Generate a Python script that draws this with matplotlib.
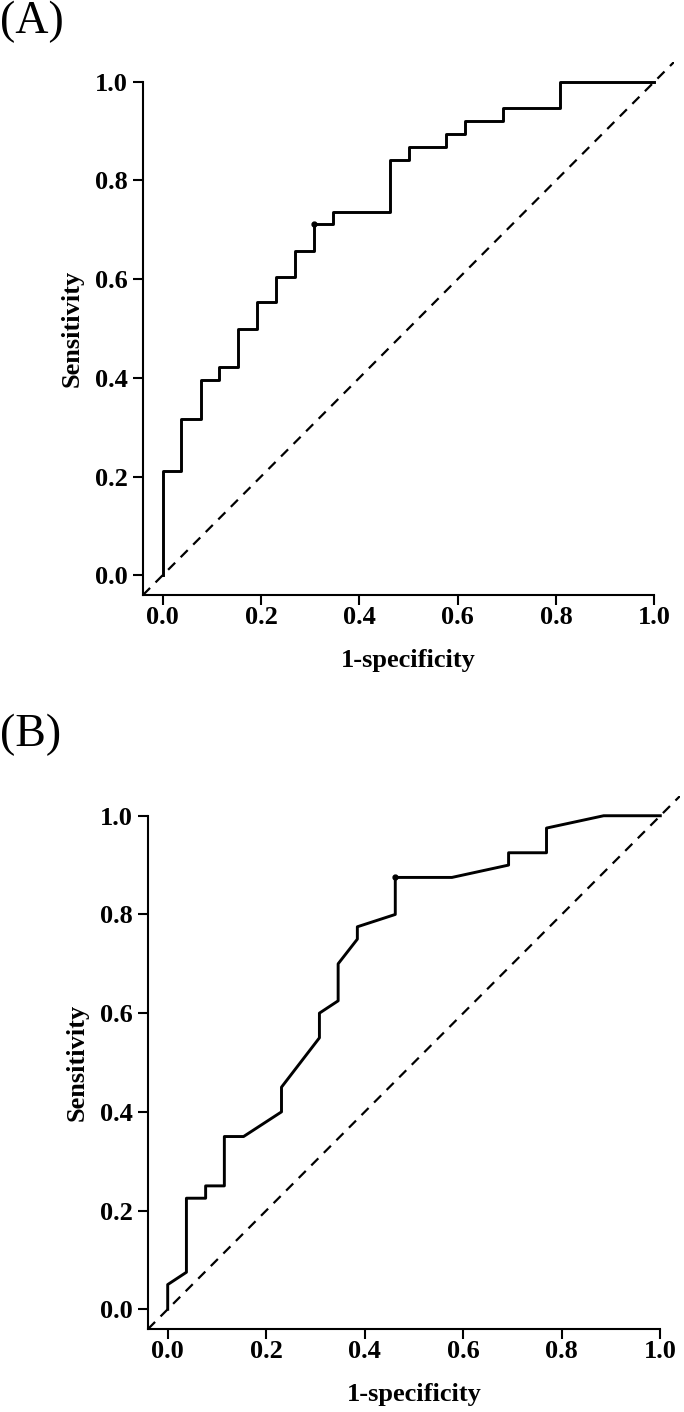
import matplotlib
matplotlib.use('Agg')
import matplotlib.pyplot as plt

plt.rcParams['font.family'] = ['Liberation Serif', 'DejaVu Serif']

# panel A: ROC points (1-specificity, sensitivity)
fpr_a = [0.0, 0.0, 0.038, 0.038, 0.077, 0.077, 0.115, 0.115, 0.154, 0.154, 0.192, 0.192,
         0.231, 0.231, 0.269, 0.269, 0.308, 0.308, 0.346, 0.346, 0.462, 0.462, 0.5, 0.5,
         0.577, 0.577, 0.615, 0.615, 0.692, 0.692, 0.808, 0.808, 1.0]
tpr_a = [0.0, 0.211, 0.211, 0.316, 0.316, 0.395, 0.395, 0.421, 0.421, 0.5, 0.5, 0.553,
         0.553, 0.605, 0.605, 0.658, 0.658, 0.711, 0.711, 0.737, 0.737, 0.842, 0.842, 0.868,
         0.868, 0.895, 0.895, 0.921, 0.921, 0.947, 0.947, 1.0, 1.0]
best_a = (0.308, 0.711)

# panel B
fpr_b = [0.0, 0.0, 0.038, 0.038, 0.077, 0.077, 0.115, 0.115, 0.154, 0.231, 0.231, 0.308,
         0.308, 0.346, 0.346, 0.385, 0.385, 0.462, 0.462, 0.577, 0.692, 0.692, 0.769, 0.769,
         0.885, 1.0]
tpr_b = [0.0, 0.05, 0.075, 0.225, 0.225, 0.25, 0.25, 0.35, 0.35, 0.40, 0.45, 0.55,
         0.60, 0.625, 0.70, 0.75, 0.775, 0.80, 0.875, 0.875, 0.90, 0.925, 0.925, 0.975,
         1.0, 1.0]
best_b = (0.462, 0.875)

ticks = [0.0, 0.2, 0.4, 0.6, 0.8, 1.0]
tick_labels = ['0.0', '0.2', '0.4', '0.6', '0.8', '1.0']

W, H = 684, 1412
fig = plt.figure(figsize=(W / 100, H / 100), dpi=100)


def px_axes(x0, x1, y0, y1):
    # pixel box -> figure fraction
    return fig.add_axes([x0 / W, 1 - y1 / H, (x1 - x0) / W, (y1 - y0) / H])


def roc_panel(ax, fpr, tpr, best):
    ax.plot([-0.04, 1.04], [-0.04, 1.04], color='black', lw=1.6,
            linestyle=(0, (4.5, 3.5)), zorder=1)
    ax.plot(fpr, tpr, color='black', lw=2.1, zorder=2)
    ax.plot([best[0]], [best[1]], 'o', color='black', ms=3.5, zorder=3)
    ax.set_xlim(-0.04, 1.04)
    ax.set_ylim(-0.04, 1.04)
    for s in ['top', 'right']:
        ax.spines[s].set_visible(False)
    ax.spines['left'].set_bounds(-0.04, 1.0)
    ax.spines['bottom'].set_bounds(-0.04, 1.0)
    ax.spines['left'].set_linewidth(1.5)
    ax.spines['bottom'].set_linewidth(1.5)
    ax.set_xticks(ticks)
    ax.set_yticks(ticks)
    ax.set_xticklabels(tick_labels, fontsize=19, fontweight='bold')
    ax.set_yticklabels(tick_labels, fontsize=19, fontweight='bold')
    ax.tick_params(direction='out', length=7, width=1.5)
    ax.tick_params(axis='x', pad=1)
    ax.tick_params(axis='y', pad=4)
    ax.set_xlabel('1-specificity', fontsize=19, fontweight='bold', labelpad=14)
    ax.set_ylabel('Sensitivity', fontsize=19, fontweight='bold', labelpad=8)


ax1 = px_axes(143, 674, 62, 595)
roc_panel(ax1, fpr_a, tpr_a, best_a)

ax2 = px_axes(148, 680, 796, 1329)
roc_panel(ax2, fpr_b, tpr_b, best_b)

fig.text(0, 1 - 1 / H, '(A)', fontsize=33, ha='left', va='top')
fig.text(0, 1 - 714 / H, '(B)', fontsize=33, ha='left', va='top')

fig.savefig('out.png', dpi=100)
